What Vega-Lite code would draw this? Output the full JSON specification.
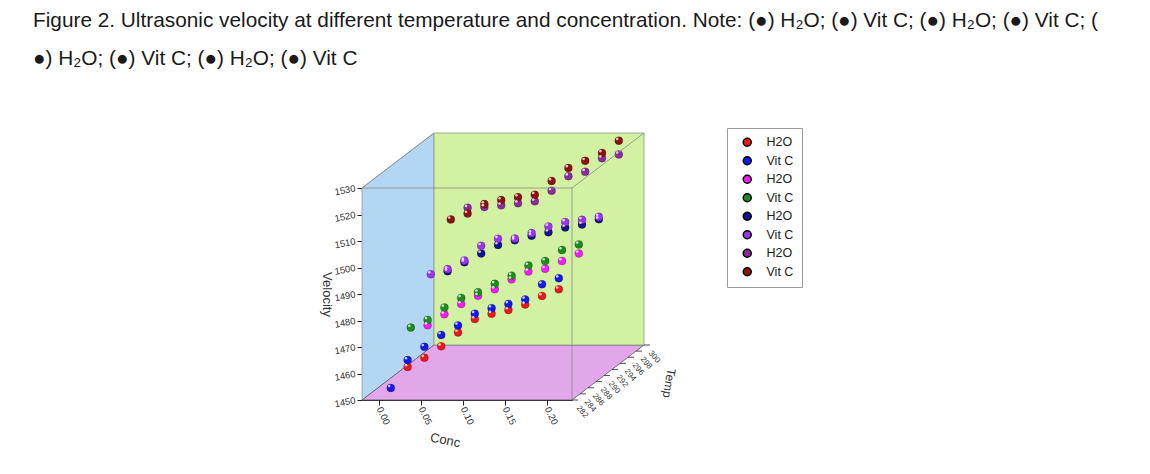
{
  "$schema": "https://vega.github.io/schema/vega-lite/v6.json",
  "autosize": {"type": "none"},
  "padding": {"left": 362, "top": 188, "right": 578, "bottom": 74},
  "width": 210,
  "height": 212,
  "background": "white",
  "config": {"view": {"stroke": null}, "font": "Liberation Sans"},
  "title": {
    "text": [
      "Figure 2. Ultrasonic velocity at different temperature and concentration. Note: (●) H₂O; (●) Vit C; (●) H₂O; (●) Vit C; (",
      "●) H₂O; (●) Vit C; (●) H₂O; (●) Vit C"
    ],
    "anchor": "start",
    "frame": "group",
    "dx": -329,
    "dy": -58,
    "fontSize": 20.8,
    "font": "Liberation Sans",
    "fontWeight": "normal",
    "color": "#1a1a1a",
    "lineHeight": 38,
    "offset": 0
  },
  "datasets": {
    "pts": [
      {"s": "1 H2O", "t": 285, "c": 0.02, "v": 1459.0},
      {"s": "1 H2O", "t": 285, "c": 0.04, "v": 1462.5},
      {"s": "1 H2O", "t": 285, "c": 0.06, "v": 1466.8},
      {"s": "1 H2O", "t": 285, "c": 0.08, "v": 1472.0},
      {"s": "1 H2O", "t": 285, "c": 0.10, "v": 1477.1},
      {"s": "1 H2O", "t": 285, "c": 0.12, "v": 1479.1},
      {"s": "1 H2O", "t": 285, "c": 0.14, "v": 1480.5},
      {"s": "1 H2O", "t": 285, "c": 0.16, "v": 1482.6},
      {"s": "1 H2O", "t": 285, "c": 0.18, "v": 1485.8},
      {"s": "1 H2O", "t": 285, "c": 0.20, "v": 1488.3},
      {"s": "2 Vit C", "t": 285, "c": 0.00, "v": 1451.1},
      {"s": "2 Vit C", "t": 285, "c": 0.02, "v": 1461.6},
      {"s": "2 Vit C", "t": 285, "c": 0.04, "v": 1466.6},
      {"s": "2 Vit C", "t": 285, "c": 0.06, "v": 1471.1},
      {"s": "2 Vit C", "t": 285, "c": 0.08, "v": 1474.7},
      {"s": "2 Vit C", "t": 285, "c": 0.10, "v": 1479.1},
      {"s": "2 Vit C", "t": 285, "c": 0.12, "v": 1481.2},
      {"s": "2 Vit C", "t": 285, "c": 0.14, "v": 1482.8},
      {"s": "2 Vit C", "t": 285, "c": 0.16, "v": 1484.5},
      {"s": "2 Vit C", "t": 285, "c": 0.18, "v": 1490.2},
      {"s": "2 Vit C", "t": 285, "c": 0.20, "v": 1492.5},
      {"s": "3 H2O", "t": 290, "c": 0.02, "v": 1469.0},
      {"s": "3 H2O", "t": 290, "c": 0.04, "v": 1473.1},
      {"s": "3 H2O", "t": 290, "c": 0.06, "v": 1477.0},
      {"s": "3 H2O", "t": 290, "c": 0.08, "v": 1480.1},
      {"s": "3 H2O", "t": 290, "c": 0.10, "v": 1482.6},
      {"s": "3 H2O", "t": 290, "c": 0.12, "v": 1486.3},
      {"s": "3 H2O", "t": 290, "c": 0.14, "v": 1489.3},
      {"s": "3 H2O", "t": 290, "c": 0.16, "v": 1490.3},
      {"s": "3 H2O", "t": 290, "c": 0.18, "v": 1493.2},
      {"s": "3 H2O", "t": 290, "c": 0.20, "v": 1496.1},
      {"s": "4 Vit C", "t": 290, "c": 0.00, "v": 1468.1},
      {"s": "4 Vit C", "t": 290, "c": 0.02, "v": 1471.0},
      {"s": "4 Vit C", "t": 290, "c": 0.04, "v": 1475.7},
      {"s": "4 Vit C", "t": 290, "c": 0.06, "v": 1479.3},
      {"s": "4 Vit C", "t": 290, "c": 0.08, "v": 1481.4},
      {"s": "4 Vit C", "t": 290, "c": 0.10, "v": 1484.6},
      {"s": "4 Vit C", "t": 290, "c": 0.12, "v": 1487.7},
      {"s": "4 Vit C", "t": 290, "c": 0.14, "v": 1491.5},
      {"s": "4 Vit C", "t": 290, "c": 0.16, "v": 1493.2},
      {"s": "4 Vit C", "t": 290, "c": 0.18, "v": 1497.4},
      {"s": "4 Vit C", "t": 290, "c": 0.20, "v": 1499.5},
      {"s": "5 H2O", "t": 295, "c": 0.02, "v": 1483.6},
      {"s": "5 H2O", "t": 295, "c": 0.04, "v": 1487.0},
      {"s": "5 H2O", "t": 295, "c": 0.06, "v": 1490.3},
      {"s": "5 H2O", "t": 295, "c": 0.08, "v": 1493.5},
      {"s": "5 H2O", "t": 295, "c": 0.10, "v": 1495.3},
      {"s": "5 H2O", "t": 295, "c": 0.12, "v": 1497.0},
      {"s": "5 H2O", "t": 295, "c": 0.14, "v": 1498.3},
      {"s": "5 H2O", "t": 295, "c": 0.16, "v": 1500.1},
      {"s": "5 H2O", "t": 295, "c": 0.18, "v": 1501.2},
      {"s": "5 H2O", "t": 295, "c": 0.20, "v": 1503.2},
      {"s": "6 Vit C", "t": 295, "c": 0.00, "v": 1482.5},
      {"s": "6 Vit C", "t": 295, "c": 0.02, "v": 1484.4},
      {"s": "6 Vit C", "t": 295, "c": 0.04, "v": 1487.7},
      {"s": "6 Vit C", "t": 295, "c": 0.06, "v": 1493.2},
      {"s": "6 Vit C", "t": 295, "c": 0.08, "v": 1495.9},
      {"s": "6 Vit C", "t": 295, "c": 0.10, "v": 1496.0},
      {"s": "6 Vit C", "t": 295, "c": 0.12, "v": 1498.0},
      {"s": "6 Vit C", "t": 295, "c": 0.14, "v": 1500.5},
      {"s": "6 Vit C", "t": 295, "c": 0.16, "v": 1502.2},
      {"s": "6 Vit C", "t": 295, "c": 0.18, "v": 1503.0},
      {"s": "6 Vit C", "t": 295, "c": 0.20, "v": 1504.2},
      {"s": "7 H2O", "t": 300, "c": 0.02, "v": 1501.8},
      {"s": "7 H2O", "t": 300, "c": 0.04, "v": 1502.1},
      {"s": "7 H2O", "t": 300, "c": 0.06, "v": 1502.7},
      {"s": "7 H2O", "t": 300, "c": 0.08, "v": 1503.5},
      {"s": "7 H2O", "t": 300, "c": 0.10, "v": 1504.2},
      {"s": "7 H2O", "t": 300, "c": 0.12, "v": 1508.2},
      {"s": "7 H2O", "t": 300, "c": 0.14, "v": 1513.7},
      {"s": "7 H2O", "t": 300, "c": 0.16, "v": 1515.4},
      {"s": "7 H2O", "t": 300, "c": 0.18, "v": 1520.5},
      {"s": "7 H2O", "t": 300, "c": 0.20, "v": 1521.9},
      {"s": "8 Vit C", "t": 300, "c": 0.00, "v": 1497.4},
      {"s": "8 Vit C", "t": 300, "c": 0.02, "v": 1499.6},
      {"s": "8 Vit C", "t": 300, "c": 0.04, "v": 1503.2},
      {"s": "8 Vit C", "t": 300, "c": 0.06, "v": 1504.7},
      {"s": "8 Vit C", "t": 300, "c": 0.08, "v": 1505.8},
      {"s": "8 Vit C", "t": 300, "c": 0.10, "v": 1506.7},
      {"s": "8 Vit C", "t": 300, "c": 0.12, "v": 1511.9},
      {"s": "8 Vit C", "t": 300, "c": 0.14, "v": 1516.8},
      {"s": "8 Vit C", "t": 300, "c": 0.16, "v": 1519.5},
      {"s": "8 Vit C", "t": 300, "c": 0.18, "v": 1522.5},
      {"s": "8 Vit C", "t": 300, "c": 0.20, "v": 1527.1}
    ],
    "temps": [
      {"t": 282}, {"t": 284}, {"t": 286}, {"t": 288}, {"t": 290},
      {"t": 292}, {"t": 294}, {"t": 296}, {"t": 298}, {"t": 300}
    ]
  },
  "resolve": {"scale": {"x": "independent", "y": "independent"}},
  "layer": [
    {
      "data": {"values": [{}]},
      "encoding": {
        "x": {
          "datum": -0.02, "type": "quantitative",
          "scale": {"domain": [-0.02, 0.23], "range": [0, 210], "nice": false, "zero": false},
          "axis": {
            "title": "Conc", "values": [0, 0.05, 0.1, 0.15, 0.2], "format": ".2f",
            "labelAngle": 65, "labelFontSize": 9.5, "labelColor": "#333", "tickSize": 5,
            "domainColor": "#222", "tickColor": "#222", "grid": false,
            "titleFontSize": 13, "titleFontWeight": "normal", "titleColor": "#333",
            "titleAngle": 12, "titleX": 84, "titleY": 34
          }
        },
        "y": {
          "datum": 1450, "type": "quantitative",
          "scale": {"domain": [1450, 1530], "range": [212, 0], "nice": false, "zero": false},
          "axis": {
            "title": "Velocity", "values": [1450, 1460, 1470, 1480, 1490, 1500, 1510, 1520, 1530], "format": "d",
            "labelFontSize": 9.5, "labelColor": "#333", "labelAngle": -10, "tickSize": 5,
            "domainColor": "#222", "tickColor": "#222", "grid": false,
            "titleFontSize": 13, "titleFontWeight": "normal", "titleColor": "#333",
            "titleAngle": 90, "titlePadding": 14
          }
        }
      },
      "layer": [
        {"mark": {"type": "point", "shape": "M0,0L72,-55L72,-267L0,-212Z", "size": 4, "filled": true, "fill": "#b3d7f3", "stroke": "#8d9aa6", "strokeWidth": 0.8, "opacity": 1}},
        {"mark": {"type": "point", "shape": "M0,0L210,0L282,-55L72,-55Z", "size": 4, "filled": true, "fill": "#e2a6eb", "stroke": "#555555", "strokeWidth": 0.8, "opacity": 1}},
        {"mark": {"type": "point", "shape": "M72,-55L282,-55L282,-267L72,-267Z", "size": 4, "filled": true, "fill": "#d3f1a3", "stroke": "#8a9a80", "strokeWidth": 0.8, "opacity": 1}}
      ]
    },
    {
      "data": {"name": "pts"},
      "transform": [{"filter": "datum.t == 300"}],
      "encoding": {
        "x": {"field": "c", "type": "quantitative", "scale": {"domain": [-0.02, 0.23], "range": [72, 282], "nice": false, "zero": false}, "axis": null},
        "y": {"field": "v", "type": "quantitative", "scale": {"domain": [1450, 1530], "range": [157, -55], "nice": false, "zero": false}, "axis": null}
      },
      "layer": [
        {
          "mark": {"type": "circle", "size": 64, "opacity": 1, "stroke": "#000000", "strokeOpacity": 0.3, "strokeWidth": 0.6},
          "encoding": {
            "color": {
              "field": "s", "type": "nominal",
              "scale": {
                "domain": ["1 H2O", "2 Vit C", "3 H2O", "4 Vit C", "5 H2O", "6 Vit C", "7 H2O", "8 Vit C"],
                "range": ["#e8191c", "#1919e6", "#ee1fee", "#1f8a1f", "#14148c", "#9b35ea", "#8b2a9b", "#8a1212"]
              },
              "legend": {
                "orient": "none", "legendX": 365, "legendY": -60, "title": null,
                "labelExpr": "slice(datum.label, 2)", "labelFontSize": 12.5, "labelFont": "Liberation Sans", "labelColor": "#222",
                "symbolType": "circle", "symbolSize": 64, "rowPadding": 3.5, "padding": 8,
                "strokeColor": "#9a9a9a", "fillColor": "white", "labelOffset": 13, "symbolOffset": 6
              }
            }
          }
        },
        {"mark": {"type": "circle", "size": 7, "color": "white", "opacity": 0.75, "xOffset": -1.6, "yOffset": -1.8}}
      ]
    },
    {
      "data": {"name": "pts"},
      "transform": [{"filter": "datum.t == 295"}],
      "encoding": {
        "x": {"field": "c", "type": "quantitative", "scale": {"domain": [-0.02, 0.23], "range": [52, 262], "nice": false, "zero": false}, "axis": null},
        "y": {"field": "v", "type": "quantitative", "scale": {"domain": [1450, 1530], "range": [172.28, -39.72], "nice": false, "zero": false}, "axis": null}
      },
      "layer": [
        {
          "mark": {"type": "circle", "size": 64, "opacity": 1, "stroke": "#000000", "strokeOpacity": 0.3, "strokeWidth": 0.6},
          "encoding": {
            "color": {
              "field": "s", "type": "nominal",
              "scale": {
                "domain": ["1 H2O", "2 Vit C", "3 H2O", "4 Vit C", "5 H2O", "6 Vit C", "7 H2O", "8 Vit C"],
                "range": ["#e8191c", "#1919e6", "#ee1fee", "#1f8a1f", "#14148c", "#9b35ea", "#8b2a9b", "#8a1212"]
              },
              "legend": {
                "orient": "none", "legendX": 365, "legendY": -60, "title": null,
                "labelExpr": "slice(datum.label, 2)", "labelFontSize": 12.5, "labelFont": "Liberation Sans", "labelColor": "#222",
                "symbolType": "circle", "symbolSize": 64, "rowPadding": 3.5, "padding": 8,
                "strokeColor": "#9a9a9a", "fillColor": "white", "labelOffset": 13, "symbolOffset": 6
              }
            }
          }
        },
        {"mark": {"type": "circle", "size": 7, "color": "white", "opacity": 0.75, "xOffset": -1.6, "yOffset": -1.8}}
      ]
    },
    {
      "data": {"name": "pts"},
      "transform": [{"filter": "datum.t == 290"}],
      "encoding": {
        "x": {"field": "c", "type": "quantitative", "scale": {"domain": [-0.02, 0.23], "range": [32, 242], "nice": false, "zero": false}, "axis": null},
        "y": {"field": "v", "type": "quantitative", "scale": {"domain": [1450, 1530], "range": [187.56, -24.44], "nice": false, "zero": false}, "axis": null}
      },
      "layer": [
        {
          "mark": {"type": "circle", "size": 64, "opacity": 1, "stroke": "#000000", "strokeOpacity": 0.3, "strokeWidth": 0.6},
          "encoding": {
            "color": {
              "field": "s", "type": "nominal",
              "scale": {
                "domain": ["1 H2O", "2 Vit C", "3 H2O", "4 Vit C", "5 H2O", "6 Vit C", "7 H2O", "8 Vit C"],
                "range": ["#e8191c", "#1919e6", "#ee1fee", "#1f8a1f", "#14148c", "#9b35ea", "#8b2a9b", "#8a1212"]
              },
              "legend": {
                "orient": "none", "legendX": 365, "legendY": -60, "title": null,
                "labelExpr": "slice(datum.label, 2)", "labelFontSize": 12.5, "labelFont": "Liberation Sans", "labelColor": "#222",
                "symbolType": "circle", "symbolSize": 64, "rowPadding": 3.5, "padding": 8,
                "strokeColor": "#9a9a9a", "fillColor": "white", "labelOffset": 13, "symbolOffset": 6
              }
            }
          }
        },
        {"mark": {"type": "circle", "size": 7, "color": "white", "opacity": 0.75, "xOffset": -1.6, "yOffset": -1.8}}
      ]
    },
    {
      "data": {"name": "pts"},
      "transform": [{"filter": "datum.t == 285"}],
      "encoding": {
        "x": {"field": "c", "type": "quantitative", "scale": {"domain": [-0.02, 0.23], "range": [12, 222], "nice": false, "zero": false}, "axis": null},
        "y": {"field": "v", "type": "quantitative", "scale": {"domain": [1450, 1530], "range": [202.83, -9.17], "nice": false, "zero": false}, "axis": null}
      },
      "layer": [
        {
          "mark": {"type": "circle", "size": 64, "opacity": 1, "stroke": "#000000", "strokeOpacity": 0.3, "strokeWidth": 0.6},
          "encoding": {
            "color": {
              "field": "s", "type": "nominal",
              "scale": {
                "domain": ["1 H2O", "2 Vit C", "3 H2O", "4 Vit C", "5 H2O", "6 Vit C", "7 H2O", "8 Vit C"],
                "range": ["#e8191c", "#1919e6", "#ee1fee", "#1f8a1f", "#14148c", "#9b35ea", "#8b2a9b", "#8a1212"]
              },
              "legend": {
                "orient": "none", "legendX": 365, "legendY": -60, "title": null,
                "labelExpr": "slice(datum.label, 2)", "labelFontSize": 12.5, "labelFont": "Liberation Sans", "labelColor": "#222",
                "symbolType": "circle", "symbolSize": 64, "rowPadding": 3.5, "padding": 8,
                "strokeColor": "#9a9a9a", "fillColor": "white", "labelOffset": 13, "symbolOffset": 6
              }
            }
          }
        },
        {"mark": {"type": "circle", "size": 7, "color": "white", "opacity": 0.75, "xOffset": -1.6, "yOffset": -1.8}}
      ]
    },
    {
      "data": {"values": [{}]},
      "mark": {"type": "point", "shape": "M0,-212L210,-212L282,-267M0,-212L72,-267M210,0L210,-212", "size": 4, "filled": false, "stroke": "#8a8a8a", "strokeWidth": 0.8, "opacity": 1},
      "encoding": {
        "x": {"datum": -0.02, "type": "quantitative", "scale": {"domain": [-0.02, 0.23], "range": [0, 210], "nice": false, "zero": false}, "axis": null},
        "y": {"datum": 1450, "type": "quantitative", "scale": {"domain": [1450, 1530], "range": [212, 0], "nice": false, "zero": false}, "axis": null}
      }
    },
    {
      "data": {"name": "temps"},
      "encoding": {
        "x": {"field": "t", "type": "quantitative", "scale": {"domain": [282, 300], "range": [210, 282], "nice": false, "zero": false}, "axis": null},
        "y": {"field": "t", "type": "quantitative", "scale": {"domain": [282, 300], "range": [212, 157], "nice": false, "zero": false}, "axis": null}
      },
      "layer": [
        {"mark": {"type": "point", "shape": "M0,0L6,0", "size": 4, "filled": false, "stroke": "#222222", "strokeWidth": 0.8, "opacity": 1}},
        {"mark": {"type": "text", "align": "left", "baseline": "middle", "dx": 9, "angle": 50, "fontSize": 8, "color": "#333"}, "encoding": {"text": {"field": "t", "type": "quantitative"}}}
      ]
    },
    {
      "data": {"values": [{"label": "Temp"}]},
      "mark": {"type": "text", "angle": 100, "fontSize": 12, "color": "#333", "align": "center", "baseline": "middle", "dy": -62},
      "encoding": {
        "x": {"datum": 291, "type": "quantitative", "scale": {"domain": [282, 300], "range": [210, 282], "nice": false, "zero": false}, "axis": null},
        "y": {"datum": 291, "type": "quantitative", "scale": {"domain": [282, 300], "range": [212, 157], "nice": false, "zero": false}, "axis": null},
        "text": {"field": "label", "type": "nominal"}
      }
    }
  ]
}
